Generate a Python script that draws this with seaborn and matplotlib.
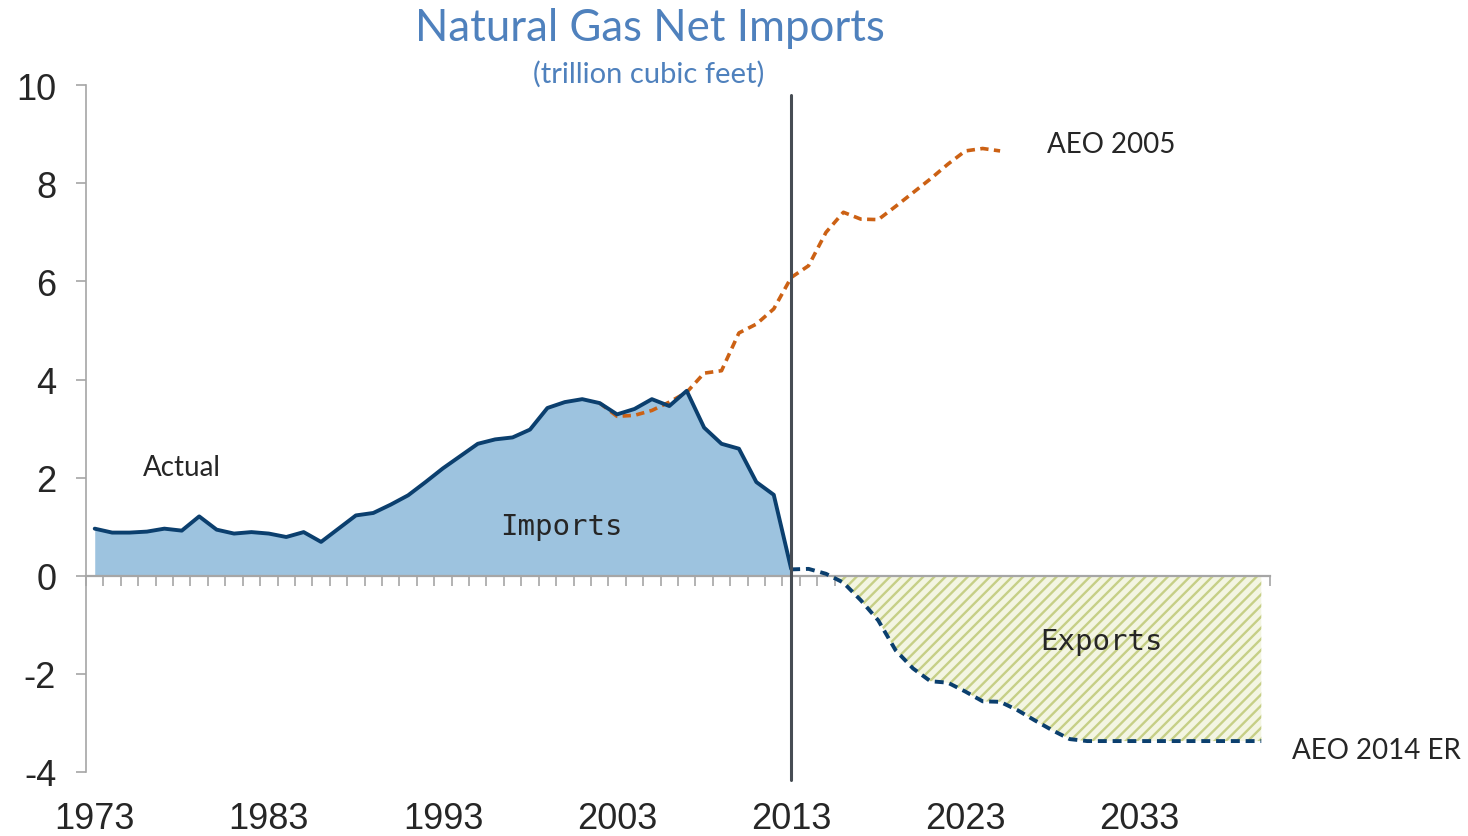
import numpy as np
import pandas as pd
import seaborn as sns
import matplotlib as mpl
import matplotlib.pyplot as plt


# Data (trillion cubic feet)
actual_years = list(range(1973, 2014))
actual_vals = [0.96, 0.88, 0.88, 0.90, 0.96, 0.92, 1.21, 0.94, 0.86, 0.89,
               0.86, 0.79, 0.89, 0.69, 0.96, 1.23, 1.28, 1.45, 1.64, 1.91,
               2.19, 2.44, 2.69, 2.78, 2.82, 2.98, 3.42, 3.54, 3.60, 3.52,
               3.29, 3.40, 3.60, 3.46, 3.77, 3.02, 2.69, 2.59, 1.91, 1.65,
               0.14]

aeo2005_years = list(range(2002, 2026))
aeo2005_vals = [3.52, 3.25, 3.27, 3.37, 3.54, 3.74, 4.13, 4.18, 4.95, 5.13,
                5.44, 6.08, 6.32, 7.00, 7.41, 7.27, 7.26, 7.53, 7.81, 8.09,
                8.39, 8.66, 8.71, 8.66]

aeo2014_years = list(range(2013, 2041))
aeo2014_vals = [0.13, 0.14, 0.04, -0.14, -0.50, -0.91, -1.52, -1.89, -2.15, -2.18,
                -2.36, -2.56, -2.57, -2.74, -2.95, -3.15, -3.33, -3.37, -3.37, -3.37,
                -3.37, -3.37, -3.37, -3.37, -3.37, -3.37, -3.37, -3.37]

label_years = [1973, 1983, 1993, 2003, 2013, 2023, 2033]
y_ticks = [-4, -2, 0, 2, 4, 6, 8, 10]

actual = pd.DataFrame({'year': actual_years, 'value': actual_vals})
aeo2005 = pd.DataFrame({'year': aeo2005_years, 'value': aeo2005_vals})
aeo2014 = pd.DataFrame({'year': aeo2014_years, 'value': aeo2014_vals})

# Style
sns.set_theme(style='white')
plt.rcParams['font.family'] = ['Liberation Sans', 'DejaVu Sans']
plt.rcParams['axes.unicode_minus'] = False
mpl.rcParams['hatch.linewidth'] = 1.7

navy = '#0B3F6E'
orange = '#CC6114'
gray = '#A6A6A6'
callout = ['Lato', 'DejaVu Sans']

fig = plt.figure(figsize=(14.68, 8.37), dpi=100)
ax = fig.add_axes([0.0586, 0.0765, 0.8065, 0.8205])

# Areas
ax.fill_between(actual['year'], actual['value'], 0, color='#9DC3DF', lw=0, zorder=1)
er = aeo2014['value'].to_numpy()
ax.fill_between(aeo2014['year'], er, 0, where=er < 0, interpolate=True,
                facecolor='#F3F5E2', edgecolor='#C6CF86', hatch='///', lw=0, zorder=1)

# Lines
sns.lineplot(data=actual, x='year', y='value', ax=ax, color=navy, lw=2.8, zorder=4)
sns.lineplot(data=aeo2005, x='year', y='value', ax=ax, color=orange, lw=2.6,
             linestyle=(0, (2.3, 1.5)), zorder=3)
sns.lineplot(data=aeo2014, x='year', y='value', ax=ax, color=navy, lw=2.8,
             linestyle=(0, (2.3, 1.5)), zorder=3)

# Divider between history and projections
ax.axvline(2013, ymin=-0.012, ymax=(9.8 + 4) / 14, color='#474D54', lw=2.2,
           clip_on=False, zorder=5)

# Axes
ax.set_xlim(1972.5, 2040.5)
ax.set_ylim(-4, 10)
ax.set_yticks(y_ticks)
ax.set_xlabel('')
ax.set_ylabel('')
for s in ['top', 'right']:
    ax.spines[s].set_visible(False)
ax.spines['left'].set_color(gray)
ax.spines['left'].set_linewidth(1.2)
ax.spines['bottom'].set_position(('data', 0))
ax.spines['bottom'].set_color(gray)
ax.spines['bottom'].set_linewidth(1.6)
ax.spines['bottom'].set_zorder(2)
ax.set_xticks(np.arange(1972.5, 2041, 1))
ax.tick_params(axis='x', direction='out', length=7.5, width=1.2, color=gray,
               labelbottom=False, bottom=True)
ax.tick_params(axis='y', direction='out', length=7.5, width=1.2, color=gray,
               left=True, labelsize=26, pad=14)

sec = ax.secondary_xaxis('bottom')
sec.set_xticks(label_years)
sec.tick_params(length=0, labelsize=26, pad=21)
sec.spines['bottom'].set_visible(False)

# Callouts
ax.text(1978.0, 2.22, 'Actual', family=callout, fontsize=20, ha='center', va='center')
ax.text(2031.4, 8.80, 'AEO 2005', family=callout, fontsize=20, ha='center', va='center')
ax.text(2046.6, -3.56, 'AEO 2014 ER', family=callout, fontsize=20, ha='center',
        va='center', clip_on=False)
ax.text(1999.8, 1.02, 'Imports', family='DejaVu Sans Mono', fontsize=21,
        ha='center', va='center', zorder=6)
ax.text(2030.8, -1.32, 'Exports', family='DejaVu Sans Mono', fontsize=21,
        ha='center', va='center', zorder=6)

# Titles
fig.text(0.443, 0.966, 'Natural Gas Net Imports', family=callout, fontsize=31.5,
         color='#4F81BD', ha='center', va='center')
fig.text(0.442, 0.911, '(trillion cubic feet)', family=callout, fontsize=21,
         color='#4F81BD', ha='center', va='center')

fig.savefig('out.png', dpi=100)
plt.close(fig)
